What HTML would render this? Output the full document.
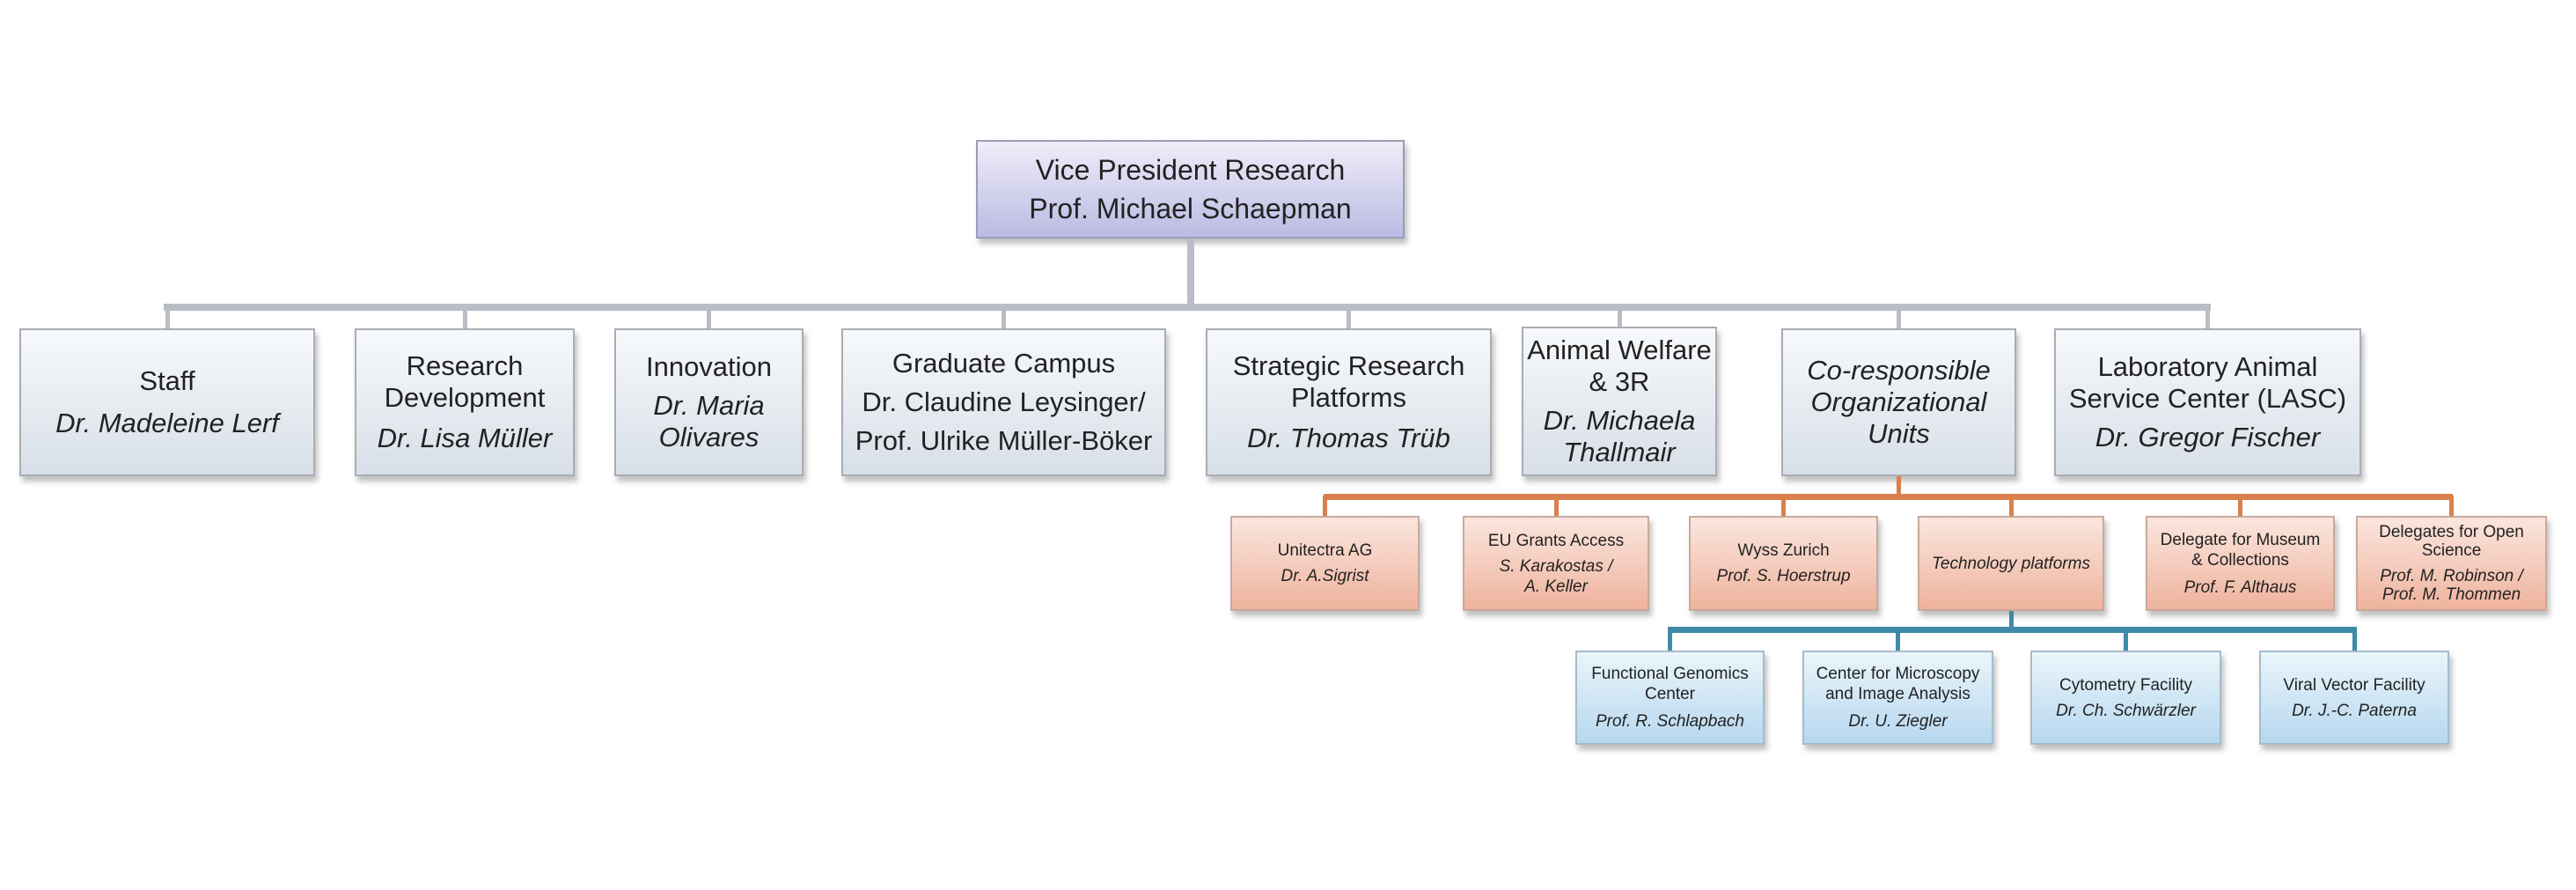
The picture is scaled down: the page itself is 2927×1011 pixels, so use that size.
<!DOCTYPE html>
<html><head><meta charset="utf-8"><style>
body{margin:0;width:2927px;height:1011px;background:#fff;position:relative;overflow:hidden;font-family:"Liberation Sans",Arial,sans-serif;color:#222}
.b{position:absolute;box-sizing:border-box;display:flex;flex-direction:column;align-items:center;justify-content:center;text-align:center;border:2px solid #a9adb3;box-shadow:3px 6px 6px rgba(0,0,0,.25)}
.g{background:linear-gradient(#f7f9fb,#d8dfe8);font-size:31px;line-height:36px}
.v{background:linear-gradient(#efeef9,#bbbae3);font-size:32px;line-height:44px;border-color:#9c9cb8}
.o{background:linear-gradient(#fbe6de,#eeb39d);font-size:19px;line-height:23px;border-color:#c9a99c;padding:0 14px}
.c{background:linear-gradient(#eaf5fb,#b7d8ef);font-size:19px;line-height:23px;border-color:#a6bccb}
i{display:block}
.l{position:absolute}
.gr{background:#b9bec6}.or{background:#d9804e}.bl{background:#3f8aa6}
</style></head><body>
<div class="b v" style="left:1109px;top:159px;width:487px;height:112px">Vice President Research<br>Prof. Michael Schaepman</div>

<div class="l gr" style="left:1349px;top:271px;width:8px;height:80px"></div>
<div class="l gr" style="left:186px;top:345px;width:2326px;height:8px"></div>
<div class="l gr" style="left:188px;top:350px;width:5px;height:23px"></div>
<div class="l gr" style="left:526px;top:350px;width:5px;height:23px"></div>
<div class="l gr" style="left:803px;top:350px;width:5px;height:23px"></div>
<div class="l gr" style="left:1138px;top:350px;width:5px;height:23px"></div>
<div class="l gr" style="left:1530px;top:350px;width:5px;height:23px"></div>
<div class="l gr" style="left:1838px;top:350px;width:5px;height:23px"></div>
<div class="l gr" style="left:2155px;top:350px;width:5px;height:23px"></div>
<div class="l gr" style="left:2506px;top:350px;width:5px;height:23px"></div>

<div class="b g" style="left:22px;top:373px;width:336px;height:168px">Staff<i style="margin-top:12px">Dr. Madeleine Lerf</i></div>
<div class="b g" style="left:403px;top:373px;width:250px;height:168px">Research Development<i style="margin-top:10px">Dr. Lisa Müller</i></div>
<div class="b g" style="left:698px;top:373px;width:215px;height:168px">Innovation<i style="margin-top:8px">Dr. Maria Olivares</i></div>
<div class="b g" style="left:956px;top:373px;width:369px;height:168px;line-height:44px">Graduate Campus<br>Dr. Claudine Leysinger/<br>Prof. Ulrike Müller-Böker</div>
<div class="b g" style="left:1370px;top:373px;width:325px;height:168px">Strategic Research Platforms<i style="margin-top:10px">Dr. Thomas Trüb</i></div>
<div class="b g" style="left:1729px;top:371px;width:222px;height:170px">Animal Welfare &amp; 3R<i style="margin-top:8px">Dr. Michaela Thallmair</i></div>
<div class="b g" style="left:2024px;top:373px;width:267px;height:168px;font-style:italic">Co-responsible Organizational Units</div>
<div class="b g" style="left:2334px;top:373px;width:349px;height:168px">Laboratory Animal Service Center (LASC)<i style="margin-top:8px">Dr. Gregor Fischer</i></div>

<div class="l or" style="left:2155px;top:541px;width:5px;height:24px"></div>
<div class="l or" style="left:1504px;top:561px;width:1283px;height:7px"></div>
<div class="l or" style="left:1503px;top:563px;width:5px;height:23px"></div>
<div class="l or" style="left:1766px;top:563px;width:5px;height:23px"></div>
<div class="l or" style="left:2024px;top:563px;width:5px;height:23px"></div>
<div class="l or" style="left:2283px;top:563px;width:5px;height:23px"></div>
<div class="l or" style="left:2543px;top:563px;width:5px;height:23px"></div>
<div class="l or" style="left:2783px;top:563px;width:5px;height:23px"></div>

<div class="b o" style="left:1398px;top:586px;width:215px;height:108px">Unitectra AG<i style="margin-top:6px">Dr. A.Sigrist</i></div>
<div class="b o" style="left:1662px;top:586px;width:212px;height:108px">EU Grants Access<i style="margin-top:6px">S. Karakostas /<br>A. Keller</i></div>
<div class="b o" style="left:1919px;top:586px;width:215px;height:108px">Wyss Zurich<i style="margin-top:6px">Prof. S. Hoerstrup</i></div>
<div class="b o" style="left:2179px;top:586px;width:212px;height:108px;padding:0"><i>Technology platforms</i></div>
<div class="b o" style="left:2438px;top:586px;width:215px;height:108px">Delegate for Museum &amp; Collections<i style="margin-top:8px">Prof. F. Althaus</i></div>
<div class="b o" style="left:2677px;top:586px;width:217px;height:108px;line-height:21px;padding:0 6px">Delegates for Open Science<i style="margin-top:8px">Prof. M. Robinson /<br>Prof. M. Thommen</i></div>

<div class="l bl" style="left:2283px;top:694px;width:5px;height:22px"></div>
<div class="l bl" style="left:1895px;top:712px;width:783px;height:7px"></div>
<div class="l bl" style="left:1895px;top:714px;width:5px;height:25px"></div>
<div class="l bl" style="left:2154px;top:714px;width:5px;height:25px"></div>
<div class="l bl" style="left:2413px;top:714px;width:5px;height:25px"></div>
<div class="l bl" style="left:2673px;top:714px;width:5px;height:25px"></div>

<div class="b c" style="left:1790px;top:739px;width:215px;height:107px">Functional Genomics Center<i style="margin-top:8px">Prof. R. Schlapbach</i></div>
<div class="b c" style="left:2048px;top:739px;width:217px;height:107px">Center for Microscopy and Image Analysis<i style="margin-top:8px">Dr. U. Ziegler</i></div>
<div class="b c" style="left:2307px;top:739px;width:217px;height:107px">Cytometry Facility<i style="margin-top:6px">Dr. Ch. Schwärzler</i></div>
<div class="b c" style="left:2567px;top:739px;width:216px;height:107px">Viral Vector Facility<i style="margin-top:6px">Dr. J.-C. Paterna</i></div>
</body></html>
